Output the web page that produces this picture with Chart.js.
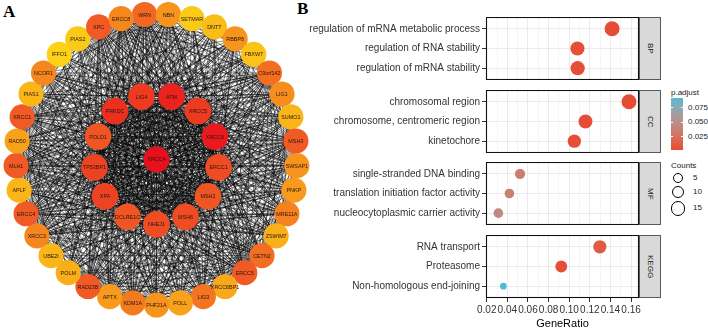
<!DOCTYPE html>
<html><head><meta charset="utf-8">
<script src="https://cdn.jsdelivr.net/npm/chart.js@4.4.1/dist/chart.umd.min.js"></script>
<style>
html,body{margin:0;padding:0;background:#fff;}
body{width:708px;height:331px;position:relative;overflow:hidden;font-family:"Liberation Sans",Arial,sans-serif;}
canvas{position:absolute;display:block;}
.panel-tag{position:absolute;font-family:"Liberation Serif","Times New Roman",serif;font-weight:bold;font-size:17px;line-height:17px;color:#000;}
.strip{position:absolute;box-sizing:border-box;background:#D9D9D9;border:1px solid #5a5a5a;display:flex;align-items:center;justify-content:center;}
.strip span{writing-mode:vertical-rl;font-size:8px;line-height:8px;color:#1A1A1A;}
.lg{position:absolute;font-size:8px;line-height:8px;color:#1A1A1A;white-space:nowrap;}
</style></head><body>
<div class="panel-tag" style="left:3px;top:3px">A</div>
<div class="panel-tag" style="left:297px;top:0px">B</div>
<canvas id="net" width="330" height="331" style="left:0;top:0"></canvas>
<script>
// ---------------- Panel A data ----------------
const hubNode = ["XRCC4"];
const innerNodes = ["ATM","XRCC5","XRCC6","ERCC1","MSH2","MSH6","NHEJ1","DCLRE1C","XPA","TP53BP1","POLD1","PRKDC","LIG4"];
const outerNodes = ["WRN","NBN","SETMAR","DNTT","RBBP8","FBXW7","C9orf142","LIG1","SUMO1","MSH3","SWSAP1","PNKP","MRE11A","ZSWIM7","CETN2","ERCC5","XRCC6BP1","LIG3","POLL","PHF21A","KDM1A","APTX","RAD23B","POLM","UBE2I","XRCC3","ERCC4","APLF","MLH1","RAD50","XRCC1","PIAS1","NCOR1","IFFO1","PIAS2","XPC","ERCC8"];
// hub score (colour: yellow = low, red = high)
const hubScore = [42];
const innerScore = [38,33,40,29,27,29,29,27,31,31,27,35,33];
const outerScore = [24,17,9,11,17,10,23,18,12,26,17,16,20,13,23,26,14,22,15,17,21,16,26,13,12,19,26,12,26,15,26,12,19,8,9,26,19];
const scoreStops = [8,17,26,42];
const scoreColors = ["#FCD116","#F7941D","#F15A24","#E8101C"];
const linkMinScore = 35;

// ---------------- Panel B data ----------------
const facetNames = ["BP","CC","MF","KEGG"];
const bpTerms = ["regulation of mRNA metabolic process","regulation of RNA stability","regulation of mRNA stability"];
const bpRatio = [0.1416,0.1080,0.1082];
const bpCount = [18,15,15];
const bpPadj  = [0.0028,0.0040,0.0040];
const ccTerms = ["chromosomal region","chromosome, centromeric region","kinetochore"];
const ccRatio = [0.1580,0.1158,0.1050];
const ccCount = [18,14,12];
const ccPadj  = [0.0026,0.0036,0.0045];
const mfTerms = ["single-stranded DNA binding","translation initiation factor activity","nucleocytoplasmic carrier activity"];
const mfRatio = [0.0523,0.0420,0.0313];
const mfCount = [5,4,4];
const mfPadj  = [0.036,0.039,0.045];
const keggTerms = ["RNA transport","Proteasome","Non-homologous end-joining"];
const keggRatio = [0.1297,0.0923,0.0361];
const keggCount = [12,8,2];
const keggPadj  = [0.011,0.004,0.092];
const xMajorTicks = [0.02,0.04,0.06,0.08,0.10,0.12,0.14,0.16];
const xMinorTicks = [0.03,0.05,0.07,0.09,0.11,0.13,0.15];
const padjBreaks = [0.025,0.050,0.075];
const countBreaks = [5,10,15];
const padjLow = "#E64B35", padjHigh = "#4DBBD5";

Chart.defaults.font.family = '"Liberation Sans", Arial, sans-serif';

// ---------- helpers ----------
function hex2rgb(h){return [1,3,5].map(i=>parseInt(h.substr(i,2),16));}
function rgb2hex(c){return '#'+c.map(v=>v.toString(16).padStart(2,'0')).join('');}
function mixHex(a,b,t){const A=hex2rgb(a),B=hex2rgb(b);return rgb2hex(A.map((v,i)=>Math.round(v+(B[i]-v)*t)));}
function s2l(c){c/=255;return c<=0.04045?c/12.92:Math.pow((c+0.055)/1.055,2.4);}
function l2s(c){c=c<=0.0031308?12.92*c:1.055*Math.pow(c,1/2.4)-0.055;return Math.round(Math.max(0,Math.min(1,c))*255);}
function rgb2lab(rgb){const [r,g,b]=rgb.map(s2l);const X=(0.4124*r+0.3576*g+0.1805*b)/0.95047,Y=0.2126*r+0.7152*g+0.0722*b,Z=(0.0193*r+0.1192*g+0.9505*b)/1.08883;const f=t=>t>0.008856?Math.cbrt(t):7.787*t+16/116;const fx=f(X),fy=f(Y),fz=f(Z);return [116*fy-16,500*(fx-fy),200*(fy-fz)];}
function lab2rgb(lab){const [L,a,b]=lab;const fy=(L+16)/116,fx=fy+a/500,fz=fy-b/200;const fi=t=>t*t*t>0.008856?t*t*t:(t-16/116)/7.787;const X=fi(fx)*0.95047,Y=fi(fy),Z=fi(fz)*1.08883;return [3.2406*X-1.5372*Y-0.4986*Z,-0.9689*X+1.8758*Y+0.0415*Z,0.0557*X-0.2040*Y+1.0570*Z].map(l2s);}
const labLow=rgb2lab(hex2rgb(padjLow)), labHigh=rgb2lab(hex2rgb(padjHigh));
const allPadj=[...bpPadj,...ccPadj,...mfPadj,...keggPadj];
const pMin=Math.min(...allPadj), pMax=Math.max(...allPadj);
function padjColor(p){const t=Math.max(0,Math.min(1,(p-pMin)/(pMax-pMin)));return rgb2hex(lab2rgb(labLow.map((v,i)=>v+(labHigh[i]-v)*t)));}
const allCount=[...bpCount,...ccCount,...mfCount,...keggCount];
const cMin=Math.min(...allCount), cMax=Math.max(...allCount);
const D_MIN=6.7, D_MAX=15;
function countDiam(c){return D_MIN+(D_MAX-D_MIN)*Math.sqrt(Math.max(0,(c-cMin)/(cMax-cMin)));}
function scoreColor(s){
  if(s<=scoreStops[0])return scoreColors[0];
  for(let i=1;i<scoreStops.length;i++){if(s<=scoreStops[i]){return mixHex(scoreColors[i-1],scoreColors[i],(s-scoreStops[i-1])/(scoreStops[i]-scoreStops[i-1]));}}
  return scoreColors[scoreColors.length-1];
}

// ---------------- Panel A: network ----------------
const INNER_R = 0.445;
const nodes=[];
hubNode.forEach((n,k)=>nodes.push({name:n,score:hubScore[k],x:0,y:0,r:13}));
innerNodes.forEach((n,k)=>{const th=(k+0.5)*2*Math.PI/innerNodes.length;nodes.push({name:n,score:innerScore[k],x:INNER_R*Math.sin(th),y:INNER_R*Math.cos(th),r:13.3});});
outerNodes.forEach((n,k)=>{const th=(k-0.5)*2*Math.PI/outerNodes.length;nodes.push({name:n,score:outerScore[k],x:Math.sin(th),y:Math.cos(th),r:12.6});});
const links=[];
for(let i=0;i<nodes.length;i++)for(let j=i+1;j<nodes.length;j++){if(nodes[i].score+nodes[j].score>=linkMinScore)links.push([i,j]);}

const netPlugin={
  id:'net',
  beforeDatasetsDraw(chart){
    const {ctx,scales:{x,y}}=chart;ctx.save();
    ctx.strokeStyle='rgba(0,0,0,0.8)';ctx.lineWidth=0.6;
    ctx.beginPath();
    links.forEach(([i,j])=>{ctx.moveTo(x.getPixelForValue(nodes[i].x),y.getPixelForValue(nodes[i].y));ctx.lineTo(x.getPixelForValue(nodes[j].x),y.getPixelForValue(nodes[j].y));});
    ctx.stroke();ctx.restore();
  },
  afterDatasetsDraw(chart){
    const {ctx,scales:{x,y}}=chart;ctx.save();
    ctx.font='5.4px "Liberation Sans", Arial, sans-serif';ctx.fillStyle='#2a1510';ctx.textAlign='center';ctx.textBaseline='middle';
    nodes.forEach(n=>ctx.fillText(n.name,x.getPixelForValue(n.x),y.getPixelForValue(n.y)+0.5));
    ctx.restore();
  }
};
new Chart(document.getElementById('net'),{
  type:'scatter',
  data:{datasets:[{data:nodes.map(n=>({x:n.x,y:n.y})),pointRadius:nodes.map(n=>n.r),pointHoverRadius:nodes.map(n=>n.r),
    pointBackgroundColor:nodes.map(n=>scoreColor(n.score)),pointBorderWidth:0,pointBorderColor:'rgba(0,0,0,0)',clip:false}]},
  options:{responsive:false,animation:false,devicePixelRatio:1,events:[],layout:{padding:0,autoPadding:false},
    plugins:{legend:{display:false},tooltip:{enabled:false}},
    scales:{x:{type:'linear',display:false,min:-156.5/140.5,max:(330-156.5)/140.5},
            y:{type:'linear',display:false,min:-(331-159.5)/145.5,max:159.5/145.5}}},
  plugins:[netPlugin]
});

// ---------------- Panel B: faceted dot plot ----------------
const facets=[
  {name:facetNames[0],terms:bpTerms,ratio:bpRatio,count:bpCount,padj:bpPadj},
  {name:facetNames[1],terms:ccTerms,ratio:ccRatio,count:ccCount,padj:ccPadj},
  {name:facetNames[2],terms:mfTerms,ratio:mfRatio,count:mfCount,padj:mfPadj},
  {name:facetNames[3],terms:keggTerms,ratio:keggRatio,count:keggCount,padj:keggPadj}
];
const facetTop=[17,90,162,235], facetH=63;
const CANVAS_LEFT=300, PANEL_LEFT=486, PANEL_RIGHT=639, STRIP_W=22;
const X_MIN=0.0193, X_MAX=0.1677;
const allXTicks=[...xMajorTicks,...xMinorTicks].sort((a,b)=>a-b);
const isMajor=v=>xMajorTicks.some(t=>Math.abs(t-v)<1e-9);
const borderPlugin={id:'pborder',afterDraw(chart){const a=chart.chartArea,ctx=chart.ctx;ctx.save();ctx.strokeStyle='#111';ctx.lineWidth=1.1;ctx.strokeRect(Math.round(a.left)+0.5,Math.round(a.top)+0.5,Math.round(a.right-a.left)-1,Math.round(a.bottom-a.top)-1);ctx.restore();}};

facets.forEach((f,i)=>{
  const bottom=i===facets.length-1;
  const cv=document.createElement('canvas');
  const h=bottom?331-facetTop[i]:facetH;
  cv.width=PANEL_RIGHT-CANVAS_LEFT+8;cv.height=h;
  cv.style.left=CANVAS_LEFT+'px';cv.style.top=facetTop[i]+'px';
  document.body.appendChild(cv);
  const st=document.createElement('div');st.className='strip';
  st.style.left=(PANEL_RIGHT)+'px';st.style.top=facetTop[i]+'px';st.style.width=STRIP_W+'px';st.style.height=facetH+'px';
  st.innerHTML='<span>'+f.name+'</span>';document.body.appendChild(st);
  new Chart(cv,{
    type:'scatter',
    data:{datasets:[{data:f.ratio.map((r,k)=>({x:r,y:k+1})),
      pointRadius:f.count.map(c=>countDiam(c)/2),pointHoverRadius:f.count.map(c=>countDiam(c)/2),
      pointBackgroundColor:f.padj.map(padjColor),pointBorderWidth:0,pointBorderColor:'rgba(0,0,0,0)'}]},
    options:{responsive:false,animation:false,devicePixelRatio:1,events:[],
      layout:{padding:{left:0,right:8,top:0,bottom:0},autoPadding:false},
      plugins:{legend:{display:false},tooltip:{enabled:false}},
      scales:{
        x:{type:'linear',min:X_MIN,max:X_MAX,
          afterBuildTicks:s=>{s.ticks=allXTicks.map(v=>({value:v}));},
          afterFit:s=>{s.height=bottom?33:0;s.paddingLeft=0;s.paddingRight=0;},
          ticks:{display:bottom,autoSkip:false,maxRotation:0,minRotation:0,padding:2,color:'#333',font:{size:10},
            callback:v=>isMajor(v)?v.toFixed(2):''},
          grid:{color:c=>isMajor(c.tick.value)?'#EBEBEB':'#F1F1F1',lineWidth:c=>isMajor(c.tick.value)?1:0.7,
            drawTicks:bottom,tickLength:4,tickWidth:1,tickColor:c=>isMajor(c.tick.value)?'#333':'rgba(0,0,0,0)'},
          border:{display:false},
          title:{display:bottom,text:'GeneRatio',color:'#000',font:{size:11},padding:0}},
        y:{type:'linear',reverse:true,min:0.4,max:f.terms.length+0.6,
          afterBuildTicks:s=>{s.ticks=f.terms.map((t,k)=>({value:k+1}));},
          afterFit:s=>{s.width=PANEL_LEFT-CANVAS_LEFT;s.paddingTop=0;s.paddingBottom=0;},
          ticks:{padding:2,color:'#333',font:{size:10},callback:v=>f.terms[Math.round(v)-1]},
          grid:{color:'#EBEBEB',lineWidth:1,drawTicks:true,tickLength:4,tickWidth:1,tickColor:'#333'},
          border:{display:false}}
      }},
    plugins:[borderPlugin]
  });
});

// ---------------- Legends ----------------
function addDiv(cls,style,html){const d=document.createElement('div');if(cls)d.className=cls;Object.assign(d.style,style);if(html!==undefined)d.innerHTML=html;document.body.appendChild(d);return d;}
const CB_L=671,CB_T=98,CB_W=12,CB_H=52;
addDiv('lg',{left:CB_L+'px',top:'89px'},'p.adjust');
const stops=[];for(let k=0;k<=20;k++){const p=pMin+(pMax-pMin)*k/20;stops.push(padjColor(p)+' '+(k*5)+'%');}
addDiv(null,{position:'absolute',left:CB_L+'px',top:CB_T+'px',width:CB_W+'px',height:CB_H+'px',background:'linear-gradient(to top,'+stops.join(',')+')'});
padjBreaks.forEach(b=>{
  const yy=CB_T+CB_H*(1-(b-pMin)/(pMax-pMin));
  addDiv(null,{position:'absolute',left:CB_L+'px',top:(yy-0.5)+'px',width:'2.4px',height:'1px',background:'#fff'});
  addDiv(null,{position:'absolute',left:(CB_L+CB_W-2.4)+'px',top:(yy-0.5)+'px',width:'2.4px',height:'1px',background:'#fff'});
  addDiv('lg',{left:(CB_L+CB_W+5)+'px',top:(yy-4)+'px'},b.toFixed(3));
});
addDiv('lg',{left:CB_L+'px',top:'162px'},'Counts');
let ky=171;
countBreaks.forEach(c=>{
  const d=countDiam(c);const kh=d+3;const cy=ky+kh/2;
  addDiv(null,{position:'absolute',left:(CB_L+7-d/2)+'px',top:(cy-d/2)+'px',width:d+'px',height:d+'px',borderRadius:'50%',border:'1px solid #000',boxSizing:'border-box'});
  addDiv('lg',{left:(CB_L+CB_W+10)+'px',top:(cy-4)+'px'},String(c));
  ky+=kh;
});
</script>
</body></html>
